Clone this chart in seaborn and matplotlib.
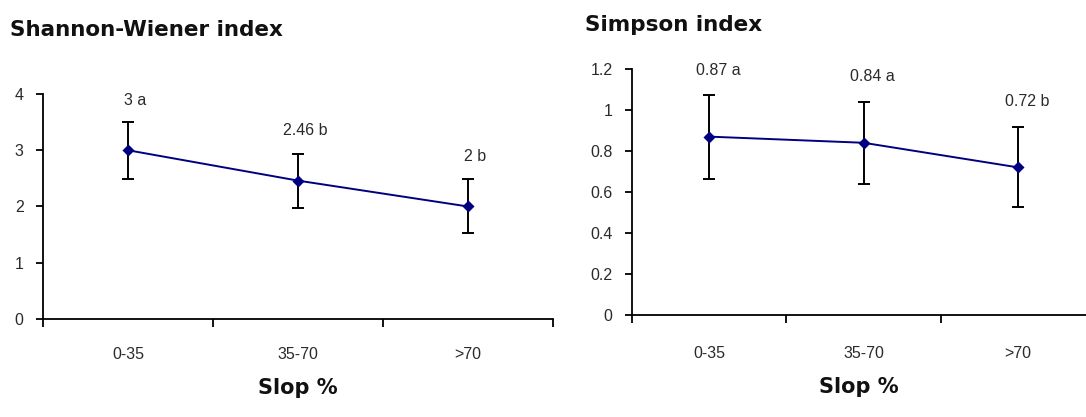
import matplotlib
matplotlib.use("Agg")
import matplotlib.pyplot as plt
import seaborn as sns
import numpy as np
from matplotlib.ticker import FixedLocator

slope_classes = ["0-35", "35-70", ">70"]

shannon_mean = [3.0, 2.46, 2.0]
shannon_err = [0.51, 0.48, 0.48]
shannon_labels = ["3 a", "2.46 b", "2 b"]

simpson_mean = [0.87, 0.84, 0.72]
simpson_err = [0.205, 0.20, 0.195]
simpson_labels = ["0.87 a", "0.84 a", "0.72 b"]

sns.set_style("white")
narrow = ["Liberation Sans Narrow", "Liberation Sans", "DejaVu Sans"]
plt.rcParams["font.family"] = ["DejaVu Sans"]

fig = plt.figure(figsize=(10.86, 4.17), dpi=100)
ax1 = fig.add_axes([0.0396, 0.235, 0.4696, 0.5396])
ax2 = fig.add_axes([0.582, 0.2446, 0.418, 0.59])

line_col = "#000080"
txt_col = "#2a2a2a"


def draw_panel(ax, means, errs, labels, ymax, ystep, xmax, xpad, lab_off):
    sns.pointplot(x=slope_classes, y=means, color=line_col, markers="D",
                  errorbar=None, markersize=5, linewidth=1.4, ax=ax)
    pos = np.arange(len(slope_classes))
    ax.errorbar(pos, means, yerr=errs, fmt="none", ecolor="black",
                elinewidth=1.4, capsize=4.5, capthick=1.4, zorder=1)
    for p, m, lab in zip(pos, means, labels):
        ax.annotate(lab, (p, m), xytext=lab_off, textcoords="offset pixels",
                    ha="center", va="center", fontsize=11.5, color=txt_col,
                    family=narrow)
    ax.set_xlim(-0.5, xmax)
    ax.set_ylim(0, ymax)
    ticks = np.arange(0, ymax + ystep / 2, ystep)
    ax.set_yticks(ticks)
    ax.set_yticklabels([f"{v:g}" for v in ticks],
                       family=narrow, fontsize=11.5, color=txt_col)
    ax.set_xticks(pos)
    ax.set_xticklabels(slope_classes, family=narrow, fontsize=11.5, color=txt_col)
    ax.xaxis.set_minor_locator(FixedLocator([-0.5, 0.5, 1.5, 2.5]))
    ax.tick_params(axis="x", which="major", length=0, pad=xpad)
    ax.tick_params(axis="x", which="minor", length=6, width=1.3,
                   direction="out", color="black", bottom=True)
    ax.tick_params(axis="y", which="major", length=5, width=1.3,
                   direction="out", color="black", left=True, pad=9)
    for s in ["top", "right"]:
        ax.spines[s].set_visible(False)
    for s in ["left", "bottom"]:
        ax.spines[s].set_color("black")
        ax.spines[s].set_linewidth(1.3)
    ax.set_xlabel("Slop %", fontsize=15, fontweight="bold", color="#111111",
                  labelpad=12)
    ax.set_ylabel("")


draw_panel(ax1, shannon_mean, shannon_err, shannon_labels, 4, 1, 2.5, 20, (7, 50))
draw_panel(ax2, simpson_mean, simpson_err, simpson_labels, 1.2, 0.2, 2.44, 22, (9, 66))

fig.text(0.009, 0.928, "Shannon-Wiener index", fontsize=15.5, fontweight="bold",
         color="#111111", va="center", ha="left")
fig.text(0.539, 0.94, "Simpson index", fontsize=15.5, fontweight="bold",
         color="#111111", va="center", ha="left")

fig.savefig("out.png", dpi=100)
